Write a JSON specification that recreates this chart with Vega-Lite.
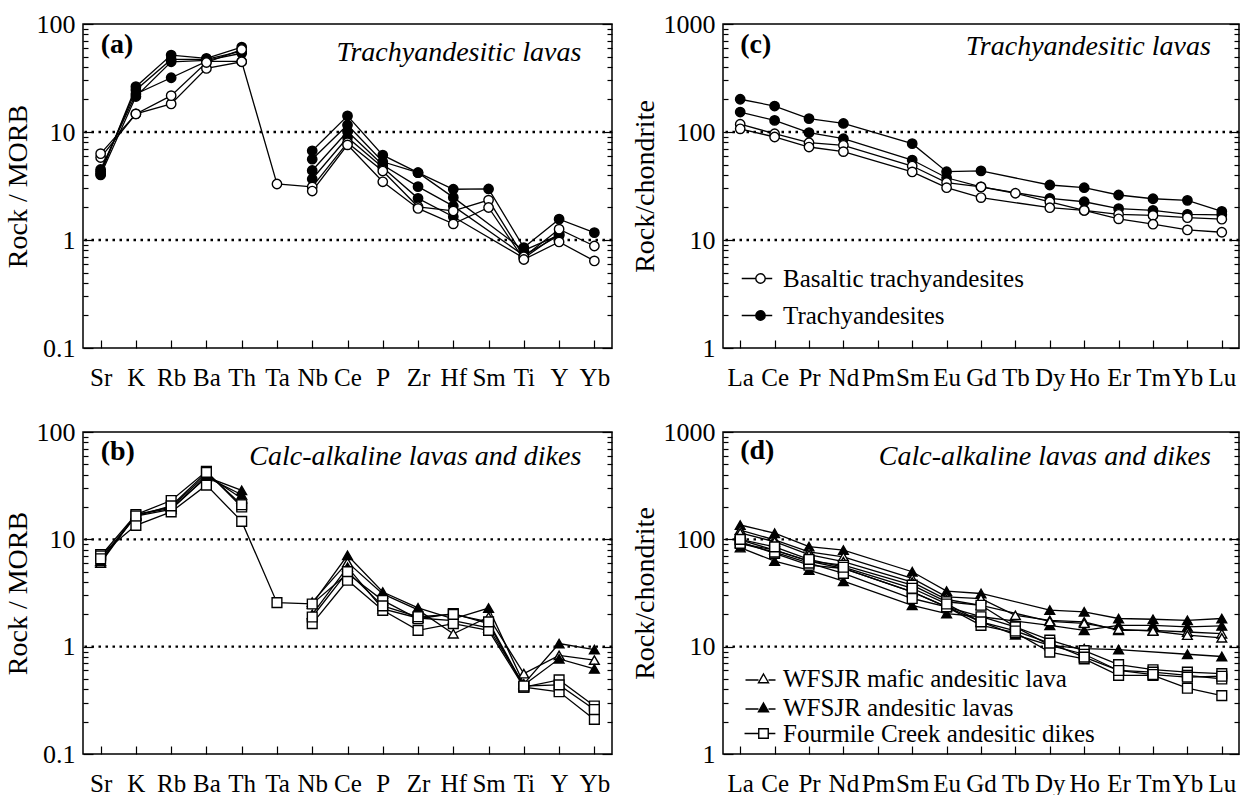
{
  "$schema": "https://vega.github.io/schema/vega-lite/v6.json",
  "padding": {"left": 3, "top": 10, "right": 0, "bottom": 0},
  "background": "white",
  "config": {
    "font": "Liberation Serif",
    "view": {"stroke": "black", "strokeWidth": 1.5},
    "axis": {"labelFont": "Liberation Serif", "labelFontSize": 26, "labelColor": "black", "titleFont": "Liberation Serif", "titleFontSize": 28, "titleFontWeight": "normal", "titleColor": "black", "tickColor": "black", "tickWidth": 1.2, "domain": false, "grid": false, "labelOverlap": false},
    "legend": {"labelFont": "Liberation Serif", "labelFontSize": 25, "labelColor": "black", "padding": 0, "title": null, "labelLimit": 500}
  },
  "resolve": {"scale": {"fill": "independent", "shape": "independent", "stroke": "independent"}, "legend": {"fill": "independent", "shape": "independent", "stroke": "independent"}},
  "datasets": {
    "types": [
      {"s": "F1", "t": "Trachyandesites"}, {"s": "F2", "t": "Trachyandesites"}, {"s": "F3", "t": "Trachyandesites"}, {"s": "F4", "t": "Trachyandesites"},
      {"s": "O1", "t": "Basaltic trachyandesites"}, {"s": "O2", "t": "Basaltic trachyandesites"},
      {"s": "M1", "t": "WFSJR mafic andesitic lava"}, {"s": "M2", "t": "WFSJR mafic andesitic lava"},
      {"s": "A1", "t": "WFSJR andesitic lavas"}, {"s": "A2", "t": "WFSJR andesitic lavas"}, {"s": "A3", "t": "WFSJR andesitic lavas"},
      {"s": "S1", "t": "Fourmile Creek andesitic dikes"}, {"s": "S2", "t": "Fourmile Creek andesitic dikes"}, {"s": "S3", "t": "Fourmile Creek andesitic dikes"}, {"s": "S4", "t": "Fourmile Creek andesitic dikes"}
    ],
    "a": [
      {"s":"F1","e":"Sr","v":4.1,"g":1},{"s":"F1","e":"K","v":26.3,"g":1},{"s":"F1","e":"Rb","v":51.5,"g":1},{"s":"F1","e":"Ba","v":48,"g":1},{"s":"F1","e":"Th","v":61,"g":1},{"s":"F1","e":"Nb","v":6.7,"g":2},{"s":"F1","e":"Ce","v":14.1,"g":2},{"s":"F1","e":"P","v":6.1,"g":2},{"s":"F1","e":"Zr","v":4.2,"g":2},{"s":"F1","e":"Hf","v":2.95,"g":2},{"s":"F1","e":"Sm","v":2.97,"g":2},{"s":"F1","e":"Ti","v":0.85,"g":2},{"s":"F1","e":"Y","v":1.56,"g":2},{"s":"F1","e":"Yb","v":1.17,"g":2},
      {"s":"F2","e":"Sr","v":4.3,"g":1},{"s":"F2","e":"K","v":24.5,"g":1},{"s":"F2","e":"Rb","v":47,"g":1},{"s":"F2","e":"Ba","v":47,"g":1},{"s":"F2","e":"Th","v":56,"g":1},{"s":"F2","e":"Nb","v":5.6,"g":2},{"s":"F2","e":"Ce","v":11.6,"g":2},{"s":"F2","e":"P","v":5.3,"g":2},{"s":"F2","e":"Zr","v":4.2,"g":2},{"s":"F2","e":"Hf","v":2.48,"g":2},{"s":"F2","e":"Ti","v":0.8,"g":2},{"s":"F2","e":"Y","v":1.11,"g":2},
      {"s":"F3","e":"Sr","v":4.0,"g":1},{"s":"F3","e":"K","v":21.3,"g":1},{"s":"F3","e":"Rb","v":44.7,"g":1},{"s":"F3","e":"Ba","v":46,"g":1},{"s":"F3","e":"Th","v":53.6,"g":1},{"s":"F3","e":"Nb","v":4.4,"g":2},{"s":"F3","e":"Ce","v":10.1,"g":2},{"s":"F3","e":"P","v":4.95,"g":2},{"s":"F3","e":"Zr","v":3.12,"g":2},{"s":"F3","e":"Hf","v":2.06,"g":2},{"s":"F3","e":"Ti","v":0.72,"g":2},{"s":"F3","e":"Y","v":1.1,"g":2},
      {"s":"F4","e":"Sr","v":4.5,"g":1},{"s":"F4","e":"K","v":22.5,"g":1},{"s":"F4","e":"Rb","v":31.8,"g":1},{"s":"F4","e":"Ba","v":45,"g":1},{"s":"F4","e":"Th","v":45,"g":1},{"s":"F4","e":"Nb","v":3.67,"g":2},{"s":"F4","e":"Ce","v":8.9,"g":2},{"s":"F4","e":"P","v":4.7,"g":2},{"s":"F4","e":"Zr","v":2.43,"g":2},{"s":"F4","e":"Hf","v":1.64,"g":2},{"s":"F4","e":"Ti","v":0.68,"g":2},{"s":"F4","e":"Y","v":1.15,"g":2},
      {"s":"O1","e":"Sr","v":5.8,"g":1},{"s":"O1","e":"K","v":14.7,"g":1},{"s":"O1","e":"Rb","v":18.2,"g":1},{"s":"O1","e":"Ba","v":38.8,"g":1},{"s":"O1","e":"Th","v":44.7,"g":1},{"s":"O1","e":"Ta","v":3.3,"g":1},{"s":"O1","e":"Nb","v":3.1,"g":1},{"s":"O1","e":"Ce","v":7.96,"g":1},{"s":"O1","e":"P","v":4.35,"g":1},{"s":"O1","e":"Zr","v":2.03,"g":1},{"s":"O1","e":"Hf","v":1.86,"g":1},{"s":"O1","e":"Sm","v":2.34,"g":1},{"s":"O1","e":"Ti","v":0.7,"g":1},{"s":"O1","e":"Y","v":1.26,"g":1},{"s":"O1","e":"Yb","v":0.88,"g":1},
      {"s":"O2","e":"Sr","v":6.3,"g":1},{"s":"O2","e":"K","v":14.7,"g":1},{"s":"O2","e":"Rb","v":21.7,"g":1},{"s":"O2","e":"Ba","v":44,"g":1},{"s":"O2","e":"Th","v":58,"g":1},{"s":"O2","e":"Nb","v":2.84,"g":2},{"s":"O2","e":"Ce","v":7.6,"g":2},{"s":"O2","e":"P","v":3.46,"g":2},{"s":"O2","e":"Zr","v":1.96,"g":2},{"s":"O2","e":"Hf","v":1.41,"g":2},{"s":"O2","e":"Sm","v":2.0,"g":2},{"s":"O2","e":"Ti","v":0.66,"g":2},{"s":"O2","e":"Y","v":0.96,"g":2},{"s":"O2","e":"Yb","v":0.64,"g":2}
    ],
    "b": [
      {"s":"M1","e":"Sr","v":6.0,"g":1},{"s":"M1","e":"K","v":17,"g":1},{"s":"M1","e":"Rb","v":20,"g":1},{"s":"M1","e":"Ba","v":40,"g":1},{"s":"M1","e":"Th","v":24,"g":1},{"s":"M1","e":"Nb","v":2.6,"g":2},{"s":"M1","e":"Ce","v":6.1,"g":2},{"s":"M1","e":"P","v":3.1,"g":2},{"s":"M1","e":"Zr","v":2.2,"g":2},{"s":"M1","e":"Hf","v":1.32,"g":2},{"s":"M1","e":"Sm","v":1.89,"g":2},{"s":"M1","e":"Ti","v":0.56,"g":2},{"s":"M1","e":"Y","v":0.83,"g":2},{"s":"M1","e":"Yb","v":0.75,"g":2},
      {"s":"A1","e":"Sr","v":6.2,"g":1},{"s":"A1","e":"K","v":17,"g":1},{"s":"A1","e":"Rb","v":19.4,"g":1},{"s":"A1","e":"Ba","v":38,"g":1},{"s":"A1","e":"Th","v":28.6,"g":1},{"s":"A1","e":"Nb","v":2.5,"g":2},{"s":"A1","e":"Ce","v":7.1,"g":2},{"s":"A1","e":"P","v":3.23,"g":2},{"s":"A1","e":"Zr","v":2.3,"g":2},{"s":"A1","e":"Hf","v":1.82,"g":2},{"s":"A1","e":"Sm","v":2.29,"g":2},{"s":"A1","e":"Ti","v":0.45,"g":2},{"s":"A1","e":"Y","v":1.07,"g":2},{"s":"A1","e":"Yb","v":0.94,"g":2},
      {"s":"A2","e":"Sr","v":6.3,"g":1},{"s":"A2","e":"K","v":16.5,"g":1},{"s":"A2","e":"Rb","v":19,"g":1},{"s":"A2","e":"Ba","v":38,"g":1},{"s":"A2","e":"Th","v":26,"g":1},{"s":"A2","e":"Nb","v":2.0,"g":2},{"s":"A2","e":"Ce","v":5.5,"g":2},{"s":"A2","e":"P","v":2.25,"g":2},{"s":"A2","e":"Zr","v":1.85,"g":2},{"s":"A2","e":"Hf","v":1.75,"g":2},{"s":"A2","e":"Sm","v":1.5,"g":2},{"s":"A2","e":"Ti","v":0.44,"g":2},{"s":"A2","e":"Y","v":0.77,"g":2},{"s":"A2","e":"Yb","v":0.62,"g":2},
      {"s":"S1","e":"Sr","v":7.2,"g":1},{"s":"S1","e":"K","v":13.5,"g":1},{"s":"S1","e":"Rb","v":18,"g":1},{"s":"S1","e":"Ba","v":32,"g":1},{"s":"S1","e":"Th","v":14.7,"g":1},{"s":"S1","e":"Ta","v":2.57,"g":1},{"s":"S1","e":"Nb","v":2.5,"g":1},{"s":"S1","e":"Ce","v":4.8,"g":1},{"s":"S1","e":"P","v":2.7,"g":1},{"s":"S1","e":"Zr","v":1.82,"g":1},{"s":"S1","e":"Hf","v":2.03,"g":1},{"s":"S1","e":"Sm","v":1.64,"g":1},{"s":"S1","e":"Ti","v":0.42,"g":1},{"s":"S1","e":"Y","v":0.49,"g":1},{"s":"S1","e":"Yb","v":0.28,"g":1},
      {"s":"S2","e":"Sr","v":7.0,"g":1},{"s":"S2","e":"K","v":17,"g":1},{"s":"S2","e":"Rb","v":23,"g":1},{"s":"S2","e":"Ba","v":43,"g":1},{"s":"S2","e":"Th","v":20,"g":1},{"s":"S2","e":"Nb","v":1.64,"g":2},{"s":"S2","e":"Ce","v":4.16,"g":2},{"s":"S2","e":"P","v":2.18,"g":2},{"s":"S2","e":"Zr","v":1.42,"g":2},{"s":"S2","e":"Hf","v":1.64,"g":2},{"s":"S2","e":"Sm","v":1.42,"g":2},{"s":"S2","e":"Ti","v":0.42,"g":2},{"s":"S2","e":"Y","v":0.38,"g":2},{"s":"S2","e":"Yb","v":0.21,"g":2},
      {"s":"S3","e":"Sr","v":6.6,"g":1},{"s":"S3","e":"K","v":16.5,"g":1},{"s":"S3","e":"Rb","v":20.5,"g":1},{"s":"S3","e":"Ba","v":42,"g":1},{"s":"S3","e":"Th","v":21,"g":1},{"s":"S3","e":"Nb","v":1.89,"g":2},{"s":"S3","e":"Ce","v":5.0,"g":2},{"s":"S3","e":"P","v":2.4,"g":2},{"s":"S3","e":"Zr","v":1.9,"g":2},{"s":"S3","e":"Hf","v":2.0,"g":2},{"s":"S3","e":"Sm","v":1.7,"g":2},{"s":"S3","e":"Ti","v":0.43,"g":2},{"s":"S3","e":"Y","v":0.44,"g":2},{"s":"S3","e":"Yb","v":0.26,"g":2}
    ],
    "c": [
      {"s":"F1","e":"La","v":201},{"s":"F1","e":"Ce","v":174},{"s":"F1","e":"Pr","v":133},{"s":"F1","e":"Nd","v":120},{"s":"F1","e":"Sm","v":78},{"s":"F1","e":"Eu","v":42.9},{"s":"F1","e":"Gd","v":43.6},{"s":"F1","e":"Dy","v":32.3},{"s":"F1","e":"Ho","v":30.5},{"s":"F1","e":"Er","v":26.1},{"s":"F1","e":"Tm","v":24.1},{"s":"F1","e":"Yb","v":23.3},{"s":"F1","e":"Lu","v":18.4},
      {"s":"F2","e":"La","v":153},{"s":"F2","e":"Ce","v":128},{"s":"F2","e":"Pr","v":98.6},{"s":"F2","e":"Nd","v":86.7},{"s":"F2","e":"Sm","v":55},{"s":"F2","e":"Eu","v":37.7},{"s":"F2","e":"Gd","v":31},{"s":"F2","e":"Dy","v":24.3},{"s":"F2","e":"Ho","v":22.6},{"s":"F2","e":"Er","v":19.5},{"s":"F2","e":"Tm","v":18.8},{"s":"F2","e":"Yb","v":17.3},{"s":"F2","e":"Lu","v":17.1},
      {"s":"O1","e":"La","v":118},{"s":"O1","e":"Ce","v":96.4},{"s":"O1","e":"Pr","v":79.6},{"s":"O1","e":"Nd","v":75.3},{"s":"O1","e":"Sm","v":48.4},{"s":"O1","e":"Eu","v":34},{"s":"O1","e":"Gd","v":31},{"s":"O1","e":"Tb","v":27.1},{"s":"O1","e":"Dy","v":22.6},{"s":"O1","e":"Ho","v":18.8},{"s":"O1","e":"Er","v":17.3},{"s":"O1","e":"Tm","v":16.9},{"s":"O1","e":"Yb","v":16.1},{"s":"O1","e":"Lu","v":15.6},
      {"s":"O2","e":"La","v":107},{"s":"O2","e":"Ce","v":89.9},{"s":"O2","e":"Pr","v":72.6},{"s":"O2","e":"Nd","v":65.8},{"s":"O2","e":"Sm","v":42.7},{"s":"O2","e":"Eu","v":30.5},{"s":"O2","e":"Gd","v":24.7},{"s":"O2","e":"Dy","v":19.9},{"s":"O2","e":"Ho","v":18.8},{"s":"O2","e":"Er","v":15.7},{"s":"O2","e":"Tm","v":14.0},{"s":"O2","e":"Yb","v":12.4},{"s":"O2","e":"Lu","v":11.8}
    ],
    "d": [
      {"s":"A1","e":"La","v":136},{"s":"A1","e":"Ce","v":114},{"s":"A1","e":"Pr","v":85.5},{"s":"A1","e":"Nd","v":79.3},{"s":"A1","e":"Sm","v":49.9},{"s":"A1","e":"Eu","v":32.9},{"s":"A1","e":"Gd","v":31.3},{"s":"A1","e":"Dy","v":21.9},{"s":"A1","e":"Ho","v":21.1},{"s":"A1","e":"Er","v":18.3},{"s":"A1","e":"Tm","v":18.0},{"s":"A1","e":"Yb","v":17.6},{"s":"A1","e":"Lu","v":18.3},
      {"s":"A2","e":"La","v":83.7},{"s":"A2","e":"Ce","v":62.7},{"s":"A2","e":"Pr","v":51.6},{"s":"A2","e":"Nd","v":40.7},{"s":"A2","e":"Sm","v":24.3},{"s":"A2","e":"Eu","v":20.3},{"s":"A2","e":"Gd","v":19.0},{"s":"A2","e":"Dy","v":15.8},{"s":"A2","e":"Ho","v":14.2},{"s":"A2","e":"Er","v":15.8},{"s":"A2","e":"Tm","v":15.8},{"s":"A2","e":"Yb","v":15.3},{"s":"A2","e":"Lu","v":15.6},
      {"s":"A3","e":"La","v":91.8},{"s":"A3","e":"Ce","v":79.3},{"s":"A3","e":"Pr","v":62.7},{"s":"A3","e":"Nd","v":53.5},{"s":"A3","e":"Sm","v":32.4},{"s":"A3","e":"Eu","v":23.5},{"s":"A3","e":"Gd","v":17.0},{"s":"A3","e":"Tb","v":12.9},{"s":"A3","e":"Dy","v":10.3},{"s":"A3","e":"Ho","v":9.6},{"s":"A3","e":"Er","v":9.4},{"s":"A3","e":"Yb","v":8.5},{"s":"A3","e":"Lu","v":8.1},
      {"s":"M1","e":"La","v":122},{"s":"M1","e":"Ce","v":99},{"s":"M1","e":"Pr","v":76.5},{"s":"M1","e":"Nd","v":68.8},{"s":"M1","e":"Sm","v":43.2},{"s":"M1","e":"Eu","v":29.1},{"s":"M1","e":"Gd","v":28.0},{"s":"M1","e":"Tb","v":19.6},{"s":"M1","e":"Dy","v":17.6},{"s":"M1","e":"Ho","v":17.0},{"s":"M1","e":"Er","v":14.2},{"s":"M1","e":"Tm","v":14.2},{"s":"M1","e":"Yb","v":13.7},{"s":"M1","e":"Lu","v":13.2},
      {"s":"M2","e":"La","v":115},{"s":"M2","e":"Ce","v":95},{"s":"M2","e":"Pr","v":72},{"s":"M2","e":"Nd","v":62},{"s":"M2","e":"Sm","v":40},{"s":"M2","e":"Eu","v":27.5},{"s":"M2","e":"Gd","v":24.3},{"s":"M2","e":"Dy","v":17.2},{"s":"M2","e":"Ho","v":16.5},{"s":"M2","e":"Er","v":14.5},{"s":"M2","e":"Tm","v":14.0},{"s":"M2","e":"Yb","v":12.8},{"s":"M2","e":"Lu","v":12.1},
      {"s":"S1","e":"La","v":98.6},{"s":"S1","e":"Ce","v":79.3},{"s":"S1","e":"Pr","v":62.7},{"s":"S1","e":"Nd","v":57.4},{"s":"S1","e":"Sm","v":37.4},{"s":"S1","e":"Eu","v":26.2},{"s":"S1","e":"Gd","v":24.3},{"s":"S1","e":"Tb","v":15.3},{"s":"S1","e":"Dy","v":11.5},{"s":"S1","e":"Ho","v":9.2},{"s":"S1","e":"Er","v":6.8},{"s":"S1","e":"Tm","v":6.1},{"s":"S1","e":"Yb","v":5.8},{"s":"S1","e":"Lu","v":5.6},
      {"s":"S2","e":"La","v":95},{"s":"S2","e":"Ce","v":73.9},{"s":"S2","e":"Pr","v":57.4},{"s":"S2","e":"Nd","v":53.5},{"s":"S2","e":"Sm","v":32.4},{"s":"S2","e":"Eu","v":23.5},{"s":"S2","e":"Gd","v":19},{"s":"S2","e":"Tb","v":15.3},{"s":"S2","e":"Dy","v":10.3},{"s":"S2","e":"Ho","v":8.5},{"s":"S2","e":"Er","v":6.0},{"s":"S2","e":"Tm","v":5.8},{"s":"S2","e":"Yb","v":5.4},{"s":"S2","e":"Lu","v":5.0},
      {"s":"S3","e":"La","v":91.8},{"s":"S3","e":"Ce","v":76},{"s":"S3","e":"Pr","v":60},{"s":"S3","e":"Nd","v":48.1},{"s":"S3","e":"Sm","v":28.1},{"s":"S3","e":"Eu","v":23.5},{"s":"S3","e":"Gd","v":15.8},{"s":"S3","e":"Tb","v":13.5},{"s":"S3","e":"Dy","v":8.9},{"s":"S3","e":"Ho","v":7.7},{"s":"S3","e":"Er","v":5.4},{"s":"S3","e":"Tm","v":5.4},{"s":"S3","e":"Yb","v":4.1},{"s":"S3","e":"Lu","v":3.5},
      {"s":"S4","e":"La","v":100},{"s":"S4","e":"Ce","v":85},{"s":"S4","e":"Pr","v":65},{"s":"S4","e":"Nd","v":55},{"s":"S4","e":"Sm","v":35},{"s":"S4","e":"Eu","v":25},{"s":"S4","e":"Gd","v":17},{"s":"S4","e":"Tb","v":14},{"s":"S4","e":"Dy","v":10.8},{"s":"S4","e":"Ho","v":8.0},{"s":"S4","e":"Er","v":6.0},{"s":"S4","e":"Tm","v":5.5},{"s":"S4","e":"Yb","v":5.2},{"s":"S4","e":"Lu","v":5.3}
    ]
  },
  "columns": 2,
  "spacing": {"row": 84, "column": 111},
  "bounds": "flush",
  "concat": [
    {
      "width": 529, "height": 324,
      "resolve": {"axis": {"y": "independent"}},
      "layer": [
        {"data": {"values": [{"r": 10}, {"r": 1}]},
         "mark": {"type": "rule", "strokeDash": [2.5, 4.5], "strokeWidth": 2.4, "color": "black"},
         "encoding": {"y": {"field": "r", "type": "quantitative", "scale": {"type": "log", "domain": [0.1, 100], "nice": false},
           "axis": {"orient": "right", "title": null, "labels": false, "values": [0.1, 1, 10, 100], "tickSize": 10, "offset": -10}}}},
        {"data": {"name": "a"},
         "mark": {"type": "line", "color": "black", "strokeWidth": 1.3},
         "encoding": {
           "x": {"field": "e", "type": "ordinal", "scale": {"type": "point", "domain": ["Sr","K","Rb","Ba","Th","Ta","Nb","Ce","P","Zr","Hf","Sm","Ti","Y","Yb"], "padding": 0.5},
             "axis": {"title": null, "labelAngle": 0, "tickSize": 8, "offset": -8, "labelPadding": 17, "labelFontSize": 25}},
           "y": {"field": "v", "type": "quantitative", "scale": {"type": "log", "domain": [0.1, 100], "nice": false},
             "axis": {"orient": "left", "title": "Rock / MORB", "values": [0.1, 1, 10, 100], "format": "~g", "tickSize": 10, "offset": -10, "labelPadding": 8, "titlePadding": 4}},
           "detail": [{"field": "s"}, {"field": "g"}]}},
        {"data": {"name": "a"},
         "transform": [{"lookup": "s", "from": {"data": {"name": "types"}, "key": "s", "fields": ["t"]}}],
         "mark": {"type": "point", "size": 88, "filled": true, "stroke": "black", "strokeWidth": 1.4, "opacity": 1},
         "encoding": {
           "x": {"field": "e", "type": "ordinal", "scale": {"type": "point", "domain": ["Sr","K","Rb","Ba","Th","Ta","Nb","Ce","P","Zr","Hf","Sm","Ti","Y","Yb"], "padding": 0.5}, "axis": {"title": null, "labelAngle": 0, "tickSize": 8, "offset": -8, "labelPadding": 17, "labelFontSize": 25}},
           "y": {"field": "v", "type": "quantitative", "scale": {"type": "log", "domain": [0.1, 100], "nice": false},
             "axis": {"orient": "left", "title": null, "labels": false, "values": [0.2,0.3,0.4,0.5,0.6,0.7,0.8,0.9,2,3,4,5,6,7,8,9,20,30,40,50,60,70,80,90], "tickSize": 5, "offset": -5}},
           "fill": {"field": "t", "type": "nominal", "scale": {"domain": ["Basaltic trachyandesites", "Trachyandesites"], "range": ["white", "black"]}, "legend": null}}},
        {"data": {"values": [{"lab": "(a)"}]},
         "mark": {"type": "text", "font": "Liberation Serif", "fontSize": 28, "fontWeight": "bold", "align": "left", "baseline": "middle", "color": "black"},
         "encoding": {
           "x": {"datum": "Sr", "type": "ordinal", "scale": {"type": "point", "domain": ["Sr","K","Rb","Ba","Th","Ta","Nb","Ce","P","Zr","Hf","Sm","Ti","Y","Yb"], "padding": 0.5}, "axis": {"title": null, "labelAngle": 0, "tickSize": 8, "offset": -8, "labelPadding": 17, "labelFontSize": 25}},
           "y": {"datum": 64, "type": "quantitative", "scale": {"type": "log", "domain": [0.1, 100], "nice": false},
             "axis": {"orient": "right", "title": null, "labels": false, "values": [0.2,0.3,0.4,0.5,0.6,0.7,0.8,0.9,2,3,4,5,6,7,8,9,20,30,40,50,60,70,80,90], "tickSize": 5, "offset": -5}},
           "text": {"field": "lab"}}},
        {"data": {"values": [{"lab": "Trachyandesitic lavas"}]},
         "mark": {"type": "text", "font": "Liberation Serif", "fontSize": 28, "fontStyle": "italic", "align": "right", "baseline": "middle", "color": "black", "dx": -13},
         "encoding": {
           "x": {"datum": "Yb", "type": "ordinal", "scale": {"type": "point", "domain": ["Sr","K","Rb","Ba","Th","Ta","Nb","Ce","P","Zr","Hf","Sm","Ti","Y","Yb"], "padding": 0.5}, "axis": {"title": null, "labelAngle": 0, "tickSize": 8, "offset": -8, "labelPadding": 17, "labelFontSize": 25}},
           "y": {"datum": 54, "type": "quantitative", "scale": {"type": "log", "domain": [0.1, 100], "nice": false}, "axis": null},
           "text": {"field": "lab"}}}
      ]
    },
    {
      "width": 516, "height": 324,
      "resolve": {"axis": {"y": "independent"}},
      "layer": [
        {"data": {"values": [{"r": 100}, {"r": 10}]},
         "mark": {"type": "rule", "strokeDash": [2.5, 4.5], "strokeWidth": 2.4, "color": "black"},
         "encoding": {"y": {"field": "r", "type": "quantitative", "scale": {"type": "log", "domain": [1, 1000], "nice": false},
           "axis": {"orient": "right", "title": null, "labels": false, "values": [1, 10, 100, 1000], "tickSize": 10, "offset": -10}}}},
        {"data": {"name": "c"},
         "mark": {"type": "line", "color": "black", "strokeWidth": 1.3},
         "encoding": {
           "x": {"field": "e", "type": "ordinal", "scale": {"type": "point", "domain": ["La","Ce","Pr","Nd","Pm","Sm","Eu","Gd","Tb","Dy","Ho","Er","Tm","Yb","Lu"], "padding": 0.5},
             "axis": {"title": null, "labelAngle": 0, "tickSize": 8, "offset": -8, "labelPadding": 17, "labelFontSize": 25}},
           "y": {"field": "v", "type": "quantitative", "scale": {"type": "log", "domain": [1, 1000], "nice": false},
             "axis": {"orient": "left", "title": "Rock/chondrite", "values": [1, 10, 100, 1000], "format": "~g", "tickSize": 10, "offset": -10, "labelPadding": 8, "titlePadding": 4}},
           "detail": {"field": "s"}}},
        {"data": {"name": "c"},
         "transform": [{"lookup": "s", "from": {"data": {"name": "types"}, "key": "s", "fields": ["t"]}}],
         "mark": {"type": "point", "size": 88, "filled": true, "stroke": "black", "strokeWidth": 1.4, "opacity": 1},
         "encoding": {
           "x": {"field": "e", "type": "ordinal", "scale": {"type": "point", "domain": ["La","Ce","Pr","Nd","Pm","Sm","Eu","Gd","Tb","Dy","Ho","Er","Tm","Yb","Lu"], "padding": 0.5}, "axis": {"title": null, "labelAngle": 0, "tickSize": 8, "offset": -8, "labelPadding": 17, "labelFontSize": 25}},
           "y": {"field": "v", "type": "quantitative", "scale": {"type": "log", "domain": [1, 1000], "nice": false},
             "axis": {"orient": "left", "title": null, "labels": false, "values": [2,3,4,5,6,7,8,9,20,30,40,50,60,70,80,90,200,300,400,500,600,700,800,900], "tickSize": 5, "offset": -5}},
           "fill": {"field": "t", "type": "nominal", "scale": {"domain": ["Basaltic trachyandesites", "Trachyandesites"], "range": ["white", "black"]},
             "legend": {"orient": "none", "direction": "vertical", "legendX": 25, "legendY": 242, "title": null, "labelFontSize": 25, "labelOffset": 10, "rowPadding": 11, "labelLimit": 500, "symbolSize": 88, "symbolStrokeColor": "black", "symbolStrokeWidth": 1.4, "symbolOpacity": 1,
               "symbolType": "M-4,0L-1,0M1,0L2.5,0M1,0A1,1 0 1,1 -1,0A1,1 0 1,1 1,0Z"}}}},
        {"data": {"values": [{"lab": "(c)"}]},
         "mark": {"type": "text", "font": "Liberation Serif", "fontSize": 28, "fontWeight": "bold", "align": "left", "baseline": "middle", "color": "black"},
         "encoding": {
           "x": {"datum": "La", "type": "ordinal", "scale": {"type": "point", "domain": ["La","Ce","Pr","Nd","Pm","Sm","Eu","Gd","Tb","Dy","Ho","Er","Tm","Yb","Lu"], "padding": 0.5}, "axis": {"title": null, "labelAngle": 0, "tickSize": 8, "offset": -8, "labelPadding": 17, "labelFontSize": 25}},
           "y": {"datum": 640, "type": "quantitative", "scale": {"type": "log", "domain": [1, 1000], "nice": false},
             "axis": {"orient": "right", "title": null, "labels": false, "values": [2,3,4,5,6,7,8,9,20,30,40,50,60,70,80,90,200,300,400,500,600,700,800,900], "tickSize": 5, "offset": -5}},
           "text": {"field": "lab"}}},
        {"data": {"values": [{"lab": "Trachyandesitic lavas"}]},
         "mark": {"type": "text", "font": "Liberation Serif", "fontSize": 28, "fontStyle": "italic", "align": "right", "baseline": "middle", "color": "black", "dx": -11},
         "encoding": {
           "x": {"datum": "Lu", "type": "ordinal", "scale": {"type": "point", "domain": ["La","Ce","Pr","Nd","Pm","Sm","Eu","Gd","Tb","Dy","Ho","Er","Tm","Yb","Lu"], "padding": 0.5}, "axis": {"title": null, "labelAngle": 0, "tickSize": 8, "offset": -8, "labelPadding": 17, "labelFontSize": 25}},
           "y": {"datum": 616, "type": "quantitative", "scale": {"type": "log", "domain": [1, 1000], "nice": false}, "axis": null},
           "text": {"field": "lab"}}}
      ]
    },
    {
      "width": 529, "height": 322,
      "resolve": {"axis": {"y": "independent"}},
      "layer": [
        {"data": {"values": [{"r": 10}, {"r": 1}]},
         "mark": {"type": "rule", "strokeDash": [2.5, 4.5], "strokeWidth": 2.4, "color": "black"},
         "encoding": {"y": {"field": "r", "type": "quantitative", "scale": {"type": "log", "domain": [0.1, 100], "nice": false},
           "axis": {"orient": "right", "title": null, "labels": false, "values": [0.1, 1, 10, 100], "tickSize": 10, "offset": -10}}}},
        {"data": {"name": "b"},
         "mark": {"type": "line", "color": "black", "strokeWidth": 1.3},
         "encoding": {
           "x": {"field": "e", "type": "ordinal", "scale": {"type": "point", "domain": ["Sr","K","Rb","Ba","Th","Ta","Nb","Ce","P","Zr","Hf","Sm","Ti","Y","Yb"], "padding": 0.5},
             "axis": {"title": null, "labelAngle": 0, "tickSize": 8, "offset": -8, "labelPadding": 17, "labelFontSize": 25}},
           "y": {"field": "v", "type": "quantitative", "scale": {"type": "log", "domain": [0.1, 100], "nice": false},
             "axis": {"orient": "left", "title": "Rock / MORB", "values": [0.1, 1, 10, 100], "format": "~g", "tickSize": 10, "offset": -10, "labelPadding": 8, "titlePadding": 4}},
           "detail": [{"field": "s"}, {"field": "g"}]}},
        {"data": {"name": "b"},
         "transform": [{"lookup": "s", "from": {"data": {"name": "types"}, "key": "s", "fields": ["t"]}}],
         "mark": {"type": "point", "size": 95, "filled": true, "stroke": "black", "strokeWidth": 1.4, "opacity": 1},
         "encoding": {
           "x": {"field": "e", "type": "ordinal", "scale": {"type": "point", "domain": ["Sr","K","Rb","Ba","Th","Ta","Nb","Ce","P","Zr","Hf","Sm","Ti","Y","Yb"], "padding": 0.5}, "axis": {"title": null, "labelAngle": 0, "tickSize": 8, "offset": -8, "labelPadding": 17, "labelFontSize": 25}},
           "y": {"field": "v", "type": "quantitative", "scale": {"type": "log", "domain": [0.1, 100], "nice": false},
             "axis": {"orient": "left", "title": null, "labels": false, "values": [0.2,0.3,0.4,0.5,0.6,0.7,0.8,0.9,2,3,4,5,6,7,8,9,20,30,40,50,60,70,80,90], "tickSize": 5, "offset": -5}},
           "shape": {"field": "t", "type": "nominal", "scale": {"domain": ["WFSJR mafic andesitic lava", "WFSJR andesitic lavas", "Fourmile Creek andesitic dikes"], "range": ["triangle-up", "triangle-up", "square"]}, "legend": null},
           "fill": {"field": "t", "type": "nominal", "scale": {"domain": ["WFSJR mafic andesitic lava", "WFSJR andesitic lavas", "Fourmile Creek andesitic dikes"], "range": ["white", "black", "white"]}, "legend": null}}},
        {"data": {"values": [{"lab": "(b)"}]},
         "mark": {"type": "text", "font": "Liberation Serif", "fontSize": 28, "fontWeight": "bold", "align": "left", "baseline": "middle", "color": "black"},
         "encoding": {
           "x": {"datum": "Sr", "type": "ordinal", "scale": {"type": "point", "domain": ["Sr","K","Rb","Ba","Th","Ta","Nb","Ce","P","Zr","Hf","Sm","Ti","Y","Yb"], "padding": 0.5}, "axis": {"title": null, "labelAngle": 0, "tickSize": 8, "offset": -8, "labelPadding": 17, "labelFontSize": 25}},
           "y": {"datum": 65, "type": "quantitative", "scale": {"type": "log", "domain": [0.1, 100], "nice": false},
             "axis": {"orient": "right", "title": null, "labels": false, "values": [0.2,0.3,0.4,0.5,0.6,0.7,0.8,0.9,2,3,4,5,6,7,8,9,20,30,40,50,60,70,80,90], "tickSize": 5, "offset": -5}},
           "text": {"field": "lab"}}},
        {"data": {"values": [{"lab": "Calc-alkaline lavas and dikes"}]},
         "mark": {"type": "text", "font": "Liberation Serif", "fontSize": 28, "fontStyle": "italic", "align": "right", "baseline": "middle", "color": "black", "dx": -13},
         "encoding": {
           "x": {"datum": "Yb", "type": "ordinal", "scale": {"type": "point", "domain": ["Sr","K","Rb","Ba","Th","Ta","Nb","Ce","P","Zr","Hf","Sm","Ti","Y","Yb"], "padding": 0.5}, "axis": {"title": null, "labelAngle": 0, "tickSize": 8, "offset": -8, "labelPadding": 17, "labelFontSize": 25}},
           "y": {"datum": 58, "type": "quantitative", "scale": {"type": "log", "domain": [0.1, 100], "nice": false}, "axis": null},
           "text": {"field": "lab"}}}
      ]
    },
    {
      "width": 516, "height": 322,
      "resolve": {"axis": {"y": "independent"}, "scale": {"shape": "independent", "fill": "independent", "stroke": "independent"}, "legend": {"shape": "independent", "fill": "independent", "stroke": "independent"}},
      "layer": [
        {"data": {"values": [{"r": 100}, {"r": 10}]},
         "mark": {"type": "rule", "strokeDash": [2.5, 4.5], "strokeWidth": 2.4, "color": "black"},
         "encoding": {"y": {"field": "r", "type": "quantitative", "scale": {"type": "log", "domain": [1, 1000], "nice": false},
           "axis": {"orient": "right", "title": null, "labels": false, "values": [1, 10, 100, 1000], "tickSize": 10, "offset": -10}}}},
        {"data": {"name": "d"},
         "mark": {"type": "line", "color": "black", "strokeWidth": 1.3},
         "encoding": {
           "x": {"field": "e", "type": "ordinal", "scale": {"type": "point", "domain": ["La","Ce","Pr","Nd","Pm","Sm","Eu","Gd","Tb","Dy","Ho","Er","Tm","Yb","Lu"], "padding": 0.5},
             "axis": {"title": null, "labelAngle": 0, "tickSize": 8, "offset": -8, "labelPadding": 17, "labelFontSize": 25}},
           "y": {"field": "v", "type": "quantitative", "scale": {"type": "log", "domain": [1, 1000], "nice": false},
             "axis": {"orient": "left", "title": "Rock/chondrite", "values": [1, 10, 100, 1000], "format": "~g", "tickSize": 10, "offset": -10, "labelPadding": 8, "titlePadding": 4}},
           "detail": {"field": "s"}}},
        {"data": {"name": "d"},
         "transform": [{"lookup": "s", "from": {"data": {"name": "types"}, "key": "s", "fields": ["t"]}}],
         "mark": {"type": "point", "size": 95, "filled": true, "stroke": "black", "strokeWidth": 1.4, "opacity": 1},
         "encoding": {
           "x": {"field": "e", "type": "ordinal", "scale": {"type": "point", "domain": ["La","Ce","Pr","Nd","Pm","Sm","Eu","Gd","Tb","Dy","Ho","Er","Tm","Yb","Lu"], "padding": 0.5}, "axis": {"title": null, "labelAngle": 0, "tickSize": 8, "offset": -8, "labelPadding": 17, "labelFontSize": 25}},
           "y": {"field": "v", "type": "quantitative", "scale": {"type": "log", "domain": [1, 1000], "nice": false},
             "axis": {"orient": "left", "title": null, "labels": false, "values": [2,3,4,5,6,7,8,9,20,30,40,50,60,70,80,90,200,300,400,500,600,700,800,900], "tickSize": 5, "offset": -5}},
           "shape": {"field": "t", "type": "nominal", "scale": {"domain": ["WFSJR mafic andesitic lava", "WFSJR andesitic lavas", "Fourmile Creek andesitic dikes"], "range": ["triangle-up", "triangle-up", "square"]}, "legend": null},
           "fill": {"field": "t", "type": "nominal", "scale": {"domain": ["WFSJR mafic andesitic lava", "WFSJR andesitic lavas", "Fourmile Creek andesitic dikes"], "range": ["white", "black", "white"]}, "legend": null}}},
        {"data": {"values": []},
         "mark": {"type": "point", "size": 100, "filled": true, "stroke": "black", "strokeWidth": 1.4, "opacity": 1},
         "encoding": {
           "x": {"field": "e", "type": "ordinal", "scale": {"type": "point", "domain": ["La","Ce","Pr","Nd","Pm","Sm","Eu","Gd","Tb","Dy","Ho","Er","Tm","Yb","Lu"], "padding": 0.5}, "axis": {"title": null, "labelAngle": 0, "tickSize": 8, "offset": -8, "labelPadding": 17, "labelFontSize": 25}},
           "y": {"field": "v", "type": "quantitative", "scale": {"type": "log", "domain": [1, 1000], "nice": false}, "axis": null},
           "fill": {"field": "t", "type": "nominal", "scale": {"domain": ["WFSJR mafic andesitic lava", "WFSJR andesitic lavas"], "range": ["white", "black"]},
             "legend": {"orient": "none", "direction": "vertical", "legendX": 28, "legendY": 234, "title": null, "labelFontSize": 25, "labelOffset": 7, "rowPadding": 3, "labelLimit": 500, "symbolSize": 100, "symbolStrokeColor": "black", "symbolStrokeWidth": 1.4, "symbolOpacity": 1,
               "symbolType": "M-3.6,0.3L-1,0.3M1,0.3L2.4,0.3M0,-0.9L1,0.85L-1,0.85Z"}}}},
        {"data": {"values": []},
         "mark": {"type": "point", "size": 100, "filled": false, "strokeWidth": 1.4, "opacity": 1},
         "encoding": {
           "x": {"field": "e", "type": "ordinal", "scale": {"type": "point", "domain": ["La","Ce","Pr","Nd","Pm","Sm","Eu","Gd","Tb","Dy","Ho","Er","Tm","Yb","Lu"], "padding": 0.5}, "axis": {"title": null, "labelAngle": 0, "tickSize": 8, "offset": -8, "labelPadding": 17, "labelFontSize": 25}},
           "y": {"field": "v", "type": "quantitative", "scale": {"type": "log", "domain": [1, 1000], "nice": false}, "axis": null},
           "stroke": {"field": "t", "type": "nominal", "scale": {"domain": ["Fourmile Creek andesitic dikes"], "range": ["black"]},
             "legend": {"orient": "none", "direction": "vertical", "legendX": 28, "legendY": 289, "title": null, "labelFontSize": 25, "labelOffset": 7, "labelLimit": 500, "symbolSize": 90, "symbolFillColor": "white", "symbolStrokeWidth": 1.4, "symbolOpacity": 1,
               "symbolType": "M-4,0L-1,0M1,0L2.5,0M-1,-1L1,-1L1,1L-1,1Z"}}}},
        {"data": {"values": [{"lab": "(d)"}]},
         "mark": {"type": "text", "font": "Liberation Serif", "fontSize": 28, "fontWeight": "bold", "align": "left", "baseline": "middle", "color": "black"},
         "encoding": {
           "x": {"datum": "La", "type": "ordinal", "scale": {"type": "point", "domain": ["La","Ce","Pr","Nd","Pm","Sm","Eu","Gd","Tb","Dy","Ho","Er","Tm","Yb","Lu"], "padding": 0.5}, "axis": {"title": null, "labelAngle": 0, "tickSize": 8, "offset": -8, "labelPadding": 17, "labelFontSize": 25}},
           "y": {"datum": 668, "type": "quantitative", "scale": {"type": "log", "domain": [1, 1000], "nice": false},
             "axis": {"orient": "right", "title": null, "labels": false, "values": [2,3,4,5,6,7,8,9,20,30,40,50,60,70,80,90,200,300,400,500,600,700,800,900], "tickSize": 5, "offset": -5}},
           "text": {"field": "lab"}}},
        {"data": {"values": [{"lab": "Calc-alkaline lavas and dikes"}]},
         "mark": {"type": "text", "font": "Liberation Serif", "fontSize": 28, "fontStyle": "italic", "align": "right", "baseline": "middle", "color": "black", "dx": -11},
         "encoding": {
           "x": {"datum": "Lu", "type": "ordinal", "scale": {"type": "point", "domain": ["La","Ce","Pr","Nd","Pm","Sm","Eu","Gd","Tb","Dy","Ho","Er","Tm","Yb","Lu"], "padding": 0.5}, "axis": {"title": null, "labelAngle": 0, "tickSize": 8, "offset": -8, "labelPadding": 17, "labelFontSize": 25}},
           "y": {"datum": 583, "type": "quantitative", "scale": {"type": "log", "domain": [1, 1000], "nice": false}, "axis": null},
           "text": {"field": "lab"}}}
      ]
    }
  ]
}
